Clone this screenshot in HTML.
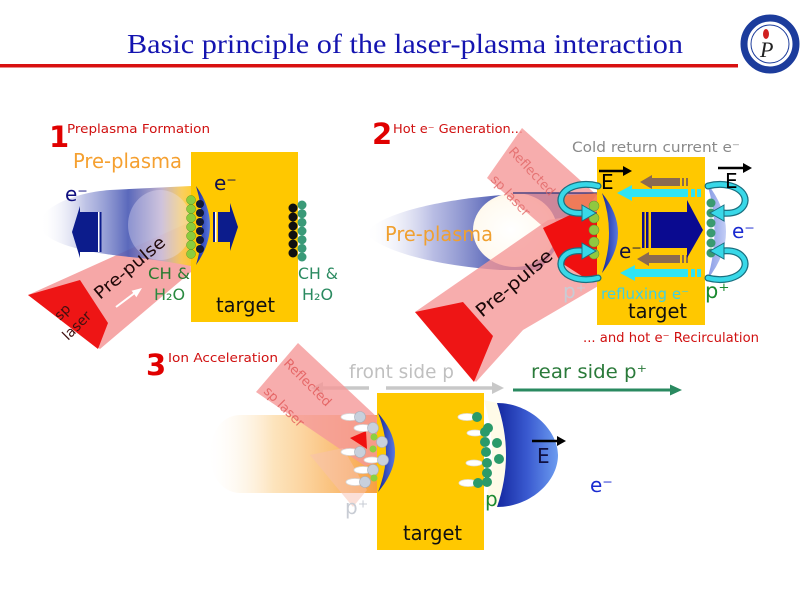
<!DOCTYPE html>
<html><head><meta charset="utf-8">
<style>
html,body{margin:0;padding:0;background:#fff;}
svg{display:block;}
text{font-family:"DejaVu Sans","Liberation Sans",sans-serif;}
</style></head><body>
<svg width="800" height="600" viewBox="0 0 800 600" xmlns="http://www.w3.org/2000/svg">
<defs>
 <linearGradient id="pl1" x1="40" y1="0" x2="192" y2="0" gradientUnits="userSpaceOnUse">
  <stop offset="0" stop-color="#ffffff" stop-opacity="0"/>
  <stop offset="0.3" stop-color="#9098d4" stop-opacity="0.65"/>
  <stop offset="0.58" stop-color="#4858b4"/>
  <stop offset="0.8" stop-color="#b8a8c8"/>
  <stop offset="0.93" stop-color="#f8c850"/>
  <stop offset="1" stop-color="#ffc820"/>
 </linearGradient>
 <linearGradient id="pl2" x1="365" y1="0" x2="560" y2="0" gradientUnits="userSpaceOnUse">
  <stop offset="0" stop-color="#ffffff" stop-opacity="0"/>
  <stop offset="0.35" stop-color="#9aa0d8" stop-opacity="0.7"/>
  <stop offset="0.75" stop-color="#3848a8"/>
  <stop offset="1" stop-color="#3040a0"/>
 </linearGradient>
 <radialGradient id="wh" cx="0.45" cy="0.5" r="0.6">
  <stop offset="0" stop-color="#ffffff"/>
  <stop offset="0.7" stop-color="#fffaf0"/>
  <stop offset="1" stop-color="#fff0d8"/>
 </radialGradient>
 <linearGradient id="pl3" x1="205" y1="0" x2="377" y2="0" gradientUnits="userSpaceOnUse">
  <stop offset="0" stop-color="#ffffff" stop-opacity="0"/>
  <stop offset="0.4" stop-color="#fcd8a0" stop-opacity="0.7"/>
  <stop offset="1" stop-color="#f8a040"/>
 </linearGradient>
 <linearGradient id="arc" x1="0" y1="0" x2="1" y2="0">
  <stop offset="0" stop-color="#14249a"/>
  <stop offset="1" stop-color="#5a7ae0"/>
 </linearGradient>
 <linearGradient id="arcL" x1="0" y1="0" x2="1" y2="0">
  <stop offset="0" stop-color="#7088e0"/>
  <stop offset="1" stop-color="#b8c4f4"/>
 </linearGradient>
 <linearGradient id="dome" x1="497" y1="0" x2="558" y2="0" gradientUnits="userSpaceOnUse">
  <stop offset="0" stop-color="#1428a0"/>
  <stop offset="0.5" stop-color="#3a5ad0"/>
  <stop offset="1" stop-color="#6c9cf0"/>
 </linearGradient>
</defs>

<!-- Title -->
<text x="405" y="53" text-anchor="middle" style="font-family:'Liberation Serif',serif" font-size="27" fill="#1414b0" textLength="556" lengthAdjust="spacingAndGlyphs">Basic principle of the laser-plasma interaction</text>
<rect x="0" y="64" width="738" height="3.5" fill="#d81010"/>
<!-- Logo -->
<circle cx="770" cy="44" r="26" fill="#fff" stroke="#1c3c9c" stroke-width="7"/>
<circle cx="770" cy="44" r="19" fill="#fff" stroke="#1c3c9c" stroke-width="1"/>
<ellipse cx="766" cy="34" rx="3" ry="5" fill="#d02020"/>
<text x="760" y="57" font-size="22" font-style="italic" style="font-family:'Liberation Serif',serif" fill="#222">P</text>

<!-- ===== Panel 1 ===== -->
<text x="49" y="147" font-size="29" font-weight="bold" fill="#e00000">1</text>
<text x="67" y="133" font-size="12" fill="#d01010" textLength="143" lengthAdjust="spacingAndGlyphs">Preplasma Formation</text>
<text x="73" y="168" font-size="20" fill="#f5a030" textLength="109" lengthAdjust="spacingAndGlyphs">Pre-plasma</text>

<polygon points="28,295 190,222 191,272 100,349" fill="#f59898" opacity="0.85"/>
<path d="M191,186 L110,190 C70,193 38,210 40,225 C42,242 80,252 130,257 C160,260 180,264 191,266 Z" fill="url(#pl1)" opacity="0.9"/>
<ellipse cx="160" cy="225" rx="32" ry="35" fill="#ece4fa" opacity="0.35"/>
<polygon points="28,295 80,280 108,323 98,349" fill="#ee1515"/>
<text x="60" y="321" font-size="14" fill="#401010" transform="rotate(-45 60 321)">sp</text>
<text x="68" y="341" font-size="14" fill="#401010" transform="rotate(-45 68 341)">laser</text>
<text x="100" y="300" font-size="17" fill="#200808" transform="rotate(-40 100 300)" textLength="87" lengthAdjust="spacingAndGlyphs">Pre-pulse</text>
<line x1="116" y1="307" x2="136" y2="292" stroke="#fff" stroke-width="2"/>
<polygon points="142,288 136.4,297.2 131.6,290.8" fill="#fff"/>

<polygon points="98,212 80,212 80,206 72,232 80,258 80,252 98,252" fill="#0c1c8c"/>
<rect x="98" y="212" width="1.5" height="40" fill="#fff"/>
<rect x="99.5" y="212" width="2" height="40" fill="#0c1c8c"/>
<text x="65" y="201" font-size="20" fill="#101080">e⁻</text>

<rect x="191" y="152" width="107" height="170" fill="#ffc800"/>
<path d="M196,186 Q224,225 196,265 Q208,225 196,186 Z" fill="url(#arc)"/>
<g fill="#101838">
 <circle cx="200" cy="204" r="4"/><circle cx="200" cy="213" r="4"/><circle cx="200" cy="222" r="4"/>
 <circle cx="200" cy="231" r="4"/><circle cx="200" cy="240" r="4"/><circle cx="200" cy="249" r="4"/>
</g>
<g fill="#8ccc3c" stroke="#5a9a2a" stroke-width="0.5">
 <circle cx="191" cy="200" r="4.5"/><circle cx="191" cy="209" r="4.5"/><circle cx="191" cy="218" r="4.5"/>
 <circle cx="191" cy="227" r="4.5"/><circle cx="191" cy="236" r="4.5"/><circle cx="191" cy="245" r="4.5"/>
 <circle cx="191" cy="254" r="4.5"/>
</g>
<rect x="213" y="212" width="2" height="30" fill="#0c1c8c"/>
<rect x="215" y="212" width="1.5" height="30" fill="#fff"/>
<polygon points="218,212 230,212 230,203 238,227 230,251 230,242 218,242" fill="#0c1c8c"/>
<text x="214" y="190" font-size="20" fill="#101050">e⁻</text>
<g fill="#101010">
 <circle cx="293" cy="208" r="4.5"/><circle cx="293" cy="217" r="4.5"/><circle cx="293" cy="226" r="4.5"/>
 <circle cx="293" cy="235" r="4.5"/><circle cx="293" cy="244" r="4.5"/><circle cx="293" cy="253" r="4.5"/>
</g>
<g fill="#3a9a78">
 <circle cx="302" cy="205" r="4.5"/><circle cx="302" cy="213.7" r="4.5"/><circle cx="302" cy="222.4" r="4.5"/>
 <circle cx="302" cy="231" r="4.5"/><circle cx="302" cy="239.7" r="4.5"/><circle cx="302" cy="248.4" r="4.5"/>
 <circle cx="302" cy="257" r="4.5"/>
</g>
<text x="148" y="279" font-size="16" fill="#2a7a30" textLength="42" lengthAdjust="spacingAndGlyphs">CH &amp;</text>
<text x="154" y="300" font-size="16" fill="#2a8a40">H₂O</text>
<text x="298" y="279" font-size="16" fill="#2a8a60" textLength="40" lengthAdjust="spacingAndGlyphs">CH &amp;</text>
<text x="302" y="300" font-size="16" fill="#2a8a60">H₂O</text>
<text x="216" y="312" font-size="20" fill="#111" textLength="59" lengthAdjust="spacingAndGlyphs">target</text>

<!-- ===== Panel 3 text (under panel-2 beam) ===== -->
<text x="349" y="378" font-size="19" fill="#c0c0c0" textLength="105" lengthAdjust="spacingAndGlyphs">front side p</text>
<text x="531" y="378" font-size="19" fill="#2a7a3a" textLength="116" lengthAdjust="spacingAndGlyphs">rear side p⁺</text>

<!-- ===== Panel 2 ===== -->
<text x="372" y="144" font-size="29" font-weight="bold" fill="#e00000">2</text>
<text x="393" y="133" font-size="12" fill="#d01010" textLength="130" lengthAdjust="spacingAndGlyphs">Hot e⁻ Generation...</text>
<text x="572" y="152" font-size="14" fill="#8a8a8a" textLength="168" lengthAdjust="spacingAndGlyphs">Cold return current e⁻</text>

<path d="M598,193 L520,194 C450,197 380,212 366,233 C380,252 440,266 500,270 L540,270 Z" fill="url(#pl2)"/>
<ellipse cx="515" cy="230" rx="42" ry="37" fill="url(#wh)"/>
<text x="385" y="241" font-size="20" fill="#f0a030" textLength="108" lengthAdjust="spacingAndGlyphs">Pre-plasma</text>
<polygon points="415,312 548,220 600,212 600,285 523,330 476,382" fill="#f59898" opacity="0.8"/>
<polygon points="487,178 522,128 600,198 600,245 570,250" fill="#f59898" opacity="0.8"/>
<line x1="513" y1="193" x2="598" y2="193" stroke="#28307a" stroke-width="1.2"/>
<polygon points="415,312 463,302 493,336 474,382" fill="#ee1515"/>
<polygon points="560,196 598,193 598,212 572,214" fill="#f87848" opacity="0.8"/>
<polygon points="543,228 572,214 598,212 598,275 585,278 560,262" fill="#f01010"/>
<text x="508" y="152" font-size="13" fill="#e06060" opacity="0.75" transform="rotate(47 508 152)">Reflected</text>
<text x="490" y="180" font-size="13" fill="#e06060" opacity="0.75" transform="rotate(47 490 180)">sp laser</text>
<text x="482" y="318" font-size="18" fill="#1a0808" transform="rotate(-40 482 318)" textLength="94" lengthAdjust="spacingAndGlyphs">Pre-pulse</text>

<rect x="597" y="157" width="108" height="168" fill="#ffc800"/>
<path d="M602,193 Q634,233 602,273 Q616,233 602,193 Z" fill="url(#arc)"/>
<path d="M707,183 Q745,232 707,280 Q722,232 707,183 Z" fill="url(#arcL)" opacity="0.85"/>
<g fill="#90c840" stroke="#6a9a30" stroke-width="0.6">
 <circle cx="594" cy="206" r="5"/><circle cx="594" cy="218" r="5"/><circle cx="594" cy="230" r="5"/>
 <circle cx="594" cy="242" r="5"/><circle cx="594" cy="254" r="5"/>
</g>
<g fill="#3a9a70">
 <circle cx="711" cy="203" r="4.5"/><circle cx="711" cy="213" r="4.5"/><circle cx="711" cy="223" r="4.5"/>
 <circle cx="711" cy="233" r="4.5"/><circle cx="711" cy="243" r="4.5"/><circle cx="711" cy="253" r="4.5"/>
</g>
<!-- brown arrows -->
<polygon points="640,182 652,175 652,178 680,178 680,186 652,186 652,189" fill="#8a6a50"/>
<rect x="682" y="178" width="2" height="8" fill="#8a6a50"/><rect x="686" y="178" width="2" height="8" fill="#8a6a50"/>
<polygon points="637,259 649,252 649,255 680,255 680,263 649,263 649,266" fill="#8a6a50"/>
<rect x="682" y="255" width="2" height="8" fill="#8a6a50"/><rect x="686" y="255" width="2" height="8" fill="#8a6a50"/>
<!-- cyan arrows -->
<polygon points="617,193 632,185 632,189 688,189 688,197 632,197 632,201" fill="#30e4f4"/>
<rect x="691" y="189" width="4" height="8" fill="#30e4f4"/><rect x="697" y="189" width="4" height="8" fill="#30e4f4"/>
<polygon points="620,273 635,265 635,269 688,269 688,277 635,277 635,281" fill="#30e4f4"/>
<rect x="691" y="269" width="4" height="8" fill="#30e4f4"/><rect x="697" y="269" width="4" height="8" fill="#30e4f4"/>
<!-- big arrow -->
<rect x="642" y="212" width="2.5" height="36" fill="#0a0a90"/>
<rect x="646" y="212" width="2.5" height="36" fill="#0a0a90"/>
<polygon points="651,212 687,212 687,200 703,230 687,258 687,248 651,248" fill="#0a0a90"/>
<!-- curved cyan arrows -->
<g fill="none" stroke-linecap="round">
 <path d="M598,186 C575,180 556,192 562,205 C566,212 574,214 584,213" stroke="#1a7080" stroke-width="7"/>
 <path d="M598,186 C575,180 556,192 562,205 C566,212 574,214 584,213" stroke="#38d8e8" stroke-width="4.5"/>
 <path d="M598,278 C575,284 556,272 562,259 C566,252 574,250 584,251" stroke="#1a7080" stroke-width="7"/>
 <path d="M598,278 C575,284 556,272 562,259 C566,252 574,250 584,251" stroke="#38d8e8" stroke-width="4.5"/>
 <path d="M708,186 C731,180 750,192 744,205 C740,212 732,214 722,213" stroke="#1a7080" stroke-width="7"/>
 <path d="M708,186 C731,180 750,192 744,205 C740,212 732,214 722,213" stroke="#38d8e8" stroke-width="4.5"/>
 <path d="M708,278 C731,284 750,272 744,259 C740,252 732,250 722,251" stroke="#1a7080" stroke-width="7"/>
 <path d="M708,278 C731,284 750,272 744,259 C740,252 732,250 722,251" stroke="#38d8e8" stroke-width="4.5"/>
</g>
<g fill="#38d8e8" stroke="#1a7080" stroke-width="1">
 <polygon points="582,205 596,213 582,221"/>
 <polygon points="582,243 596,251 582,259"/>
 <polygon points="724,205 710,213 724,221"/>
 <polygon points="724,243 710,251 724,259"/>
</g>
<!-- E labels -->
<line x1="599" y1="171" x2="625" y2="171" stroke="#000" stroke-width="2.5"/>
<polygon points="632,171 623,166 623,176" fill="#000"/>
<text x="601" y="189" font-size="20" fill="#000">E</text>
<line x1="718" y1="168" x2="745" y2="168" stroke="#000" stroke-width="2.5"/>
<polygon points="752,168 743,163 743,173" fill="#000"/>
<text x="725" y="188" font-size="20" fill="#000">E</text>
<text x="619" y="258" font-size="20" fill="#101040">e⁻</text>
<text x="732" y="238" font-size="20" fill="#1a2ad0">e⁻</text>
<text x="563" y="298" font-size="20" fill="#c8ccd4">p⁺</text>
<text x="601" y="299" font-size="15" fill="#40d0e0" textLength="88" lengthAdjust="spacingAndGlyphs">refluxing e⁻</text>
<text x="705" y="298" font-size="21" fill="#1a8a30">p⁺</text>
<text x="628" y="318" font-size="20" fill="#111" textLength="59" lengthAdjust="spacingAndGlyphs">target</text>
<text x="583" y="342" font-size="13" fill="#d01010" textLength="176" lengthAdjust="spacingAndGlyphs">... and hot e⁻ Recirculation</text>

<!-- ===== Panel 3 ===== -->
<text x="146" y="375" font-size="29" font-weight="bold" fill="#e00000">3</text>
<text x="168" y="362" font-size="12" fill="#d01010" textLength="110" lengthAdjust="spacingAndGlyphs">Ion Acceleration</text>
<line x1="322" y1="388" x2="369" y2="388" stroke="#c8c8c8" stroke-width="3.5"/>
<polygon points="311,388 323,382 323,394" fill="#c8c8c8"/>
<line x1="386" y1="388" x2="494" y2="388" stroke="#c8c8c8" stroke-width="3.5"/>
<polygon points="504,388 492,382 492,394" fill="#c8c8c8"/>
<line x1="513" y1="390" x2="672" y2="390" stroke="#2a8a60" stroke-width="3"/>
<polygon points="682,390 670,384.5 670,395.5" fill="#2a8a60"/>

<path d="M377,415 L240,415 C200,416 200,492 240,493 L377,493 Z" fill="url(#pl3)"/>
<polygon points="256,392 298,343 378,418 378,462 365,466" fill="#f59898" opacity="0.8"/>
<polygon points="310,455 343,448 367,490 353,507" fill="#f8c0b0" opacity="0.5"/>
<text x="283" y="364" font-size="13" fill="#e05050" opacity="0.75" transform="rotate(45 283 364)">Reflected</text>
<text x="263" y="392" font-size="13" fill="#e05050" opacity="0.75" transform="rotate(45 263 392)">sp laser</text>
<polygon points="350,438 366,431 367,449" fill="#f01010"/>

<rect x="377" y="393" width="107" height="157" fill="#ffc800"/>
<path d="M378,413 Q412,452 378,492 Q394,452 378,413 Z" fill="url(#arc)"/>
<g fill="#fff" stroke="#d8d8d8" stroke-width="0.8">
 <ellipse cx="350" cy="417" rx="9" ry="3.5"/><ellipse cx="363" cy="428" rx="9" ry="3.5"/>
 <ellipse cx="350" cy="452" rx="9" ry="3.5"/><ellipse cx="363" cy="470" rx="9" ry="3.5"/>
 <ellipse cx="355" cy="482" rx="9" ry="3.5"/><ellipse cx="372" cy="460" rx="8" ry="3"/>
</g>
<g fill="#c8d0dc" stroke="#a8b0bc" stroke-width="0.6">
 <circle cx="360" cy="417" r="5.5"/><circle cx="373" cy="428" r="5.5"/><circle cx="382" cy="442" r="5.5"/>
 <circle cx="360" cy="452" r="5.5"/><circle cx="383" cy="460" r="5.5"/><circle cx="373" cy="470" r="5.5"/>
 <circle cx="365" cy="482" r="5.5"/>
</g>
<g fill="#8cd040">
 <circle cx="374" cy="437" r="3.5"/><circle cx="373" cy="449" r="3.5"/><circle cx="374" cy="478" r="3.5"/>
</g>
<g fill="#fff" stroke="#e0e0e0" stroke-width="0.8">
 <ellipse cx="467" cy="417" rx="9" ry="3.5"/><ellipse cx="475" cy="433" rx="8" ry="3"/>
 <ellipse cx="474" cy="463" rx="8" ry="3"/><ellipse cx="468" cy="483" rx="9" ry="3.5"/>
</g>
<path d="M484,400 L497,403 Q515,455 497,507 L484,505 Q500,455 484,400 Z" fill="#fffbe8"/>
<path d="M497,403 C530,403 558,430 558,455 C558,482 530,507 497,507 Q515,455 497,403 Z" fill="url(#dome)"/>
<g fill="#2a9a6a">
 <circle cx="477" cy="417" r="5"/><circle cx="488" cy="428" r="5"/><circle cx="485" cy="432" r="5"/>
 <circle cx="485" cy="442" r="5"/><circle cx="497" cy="443" r="5"/><circle cx="486" cy="452" r="5"/>
 <circle cx="499" cy="459" r="5"/><circle cx="487" cy="463" r="5"/><circle cx="487" cy="473" r="5"/>
 <circle cx="478" cy="483" r="5"/><circle cx="487" cy="482" r="5"/>
</g>
<line x1="532" y1="441" x2="558" y2="441" stroke="#000" stroke-width="2.5"/>
<polygon points="566,441 557,436 557,446" fill="#000"/>
<text x="537" y="463" font-size="20" fill="#101040">E</text>
<text x="590" y="492" font-size="20" fill="#1a2ad0">e⁻</text>
<text x="485" y="506" font-size="20" fill="#1a8a30">p</text>
<text x="345" y="514" font-size="20" fill="#c8ccd4">p⁺</text>
<text x="403" y="540" font-size="20" fill="#111" textLength="59" lengthAdjust="spacingAndGlyphs">target</text>
</svg>
</body></html>
